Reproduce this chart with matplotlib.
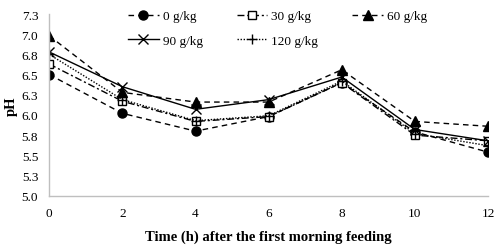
import matplotlib
matplotlib.use("Agg")
import matplotlib.pyplot as plt

hours = [0, 2, 4, 6, 8, 10, 12]
ph_0 = [6.50, 6.02, 5.80, 5.98, 6.40, 5.79, 5.54]
ph_30 = [6.63, 6.17, 5.92, 5.98, 6.40, 5.75, 5.68]
ph_60 = [6.98, 6.28, 6.16, 6.16, 6.56, 5.92, 5.86]
ph_90 = [6.78, 6.35, 6.07, 6.19, 6.47, 5.82, 5.68]
ph_120 = [6.75, 6.19, 5.93, 5.99, 6.42, 5.77, 5.62]
labels = ["0 g/kg", "30 g/kg", "60 g/kg", "90 g/kg", "120 g/kg"]
y_ticks = [5.0, 5.25, 5.5, 5.75, 6.0, 6.25, 6.5, 6.75, 7.0, 7.25]
y_tick_labels = ["5.0", "5.3", "5.5", "5.8", "6.0", "6.3", "6.5", "6.8", "7.0", "7.3"]

plt.rcParams['font.family'] = ['Liberation Serif', 'DejaVu Serif']

fig = plt.figure(figsize=(5, 2.51), dpi=100)
ax = fig.add_axes([0.0986, 0.2163, 0.8774, 0.7237])

lw = 1.0
# 0 g/kg - dashed with filled circle
l0, = ax.plot(hours, ph_0, color='black', lw=lw, dashes=(4, 3), marker='o', ms=6.5,
              mfc='black', mec='black', label=labels[0])
# 30 g/kg - dash dot with open square
l30, = ax.plot(hours, ph_30, color='black', lw=lw, dashes=(5, 2, 1.5, 2), marker='s', ms=6,
               mfc='white', mec='black', label=labels[1])
# 60 g/kg - dashed with filled triangle
l60, = ax.plot(hours, ph_60, color='black', lw=lw, dashes=(4, 3), marker='^', ms=7,
               mfc='black', mec='black', label=labels[2])
# 90 g/kg - solid with x
l90, = ax.plot(hours, ph_90, color='black', lw=lw, linestyle='-', marker='x', ms=6.5,
               mew=1.0, label=labels[3])
# 120 g/kg - dotted with plus
l120, = ax.plot(hours, ph_120, color='black', lw=lw, dashes=(1, 1.2), marker='+', ms=7,
                mew=1.0, label=labels[4])

ax.set_xlim(0, 12)
ax.set_ylim(5.0, 7.25)
ax.set_xticks(hours)
ax.set_yticks(y_ticks)
ax.set_yticklabels(y_tick_labels)
ax.tick_params(axis='both', length=0, labelsize=9.5)
ax.tick_params(axis='y', pad=8)
ax.tick_params(axis='x', pad=8)

for side in ['top', 'right']:
    ax.spines[side].set_visible(False)
for side in ['left', 'bottom']:
    ax.spines[side].set_color('#bfbfbf')
    ax.spines[side].set_linewidth(1.0)

ax.set_ylabel("pH", fontsize=10.5, fontweight='bold')
ax.yaxis.set_label_coords(-0.071, 0.5)
ax.set_xlabel("Time (h) after the first morning feeding", fontsize=10.5,
              fontweight='bold', labelpad=8)

# row-wise order for a 3 column legend
handles = [l0, l90, l30, l120, l60]
fig.legend(handles, [h.get_label() for h in handles], loc='upper center',
           bbox_to_anchor=(0.555, 0.988), ncol=3, frameon=False, fontsize=9.5,
           handlelength=2.3, numpoints=1, columnspacing=2.6, labelspacing=0.95,
           handletextpad=0.3, borderaxespad=0.2)

fig.savefig("out.png", dpi=100)
